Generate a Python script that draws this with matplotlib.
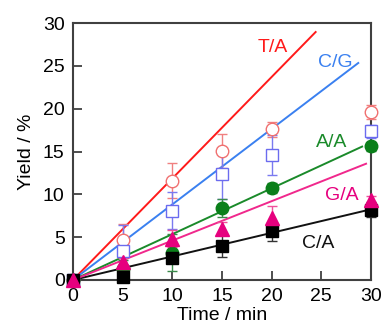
import matplotlib
matplotlib.use("Agg")
import matplotlib.pyplot as plt

plt.rcParams['font.family'] = ['Liberation Sans', 'DejaVu Sans']

time = [0, 5, 10, 15, 20, 30]

ta_y = [0, 4.7, 11.6, 15.05, 17.6, 19.6]
ta_err = [0, 1.8, 2.0, 2.0, 0.9, 0.8]
cg_y = [0, 3.4, 8.1, 12.4, 14.6, 17.35]
cg_err = [0, 3.0, 2.2, 3.0, 2.3, 0.8]
aa_y = [0, 1.3, 3.2, 8.4, 10.7, 15.6]
aa_err = [0, 1.0, 2.2, 1.1, 0.6, 0.5]
ga_y = [0, 2.1, 4.8, 6.0, 7.2, 9.3]
ga_err = [0, 0.5, 1.0, 0.8, 1.4, 0.5]
ca_y = [0, 0.3, 2.6, 4.0, 5.7, 8.2]
ca_err = [0, 0.3, 0.6, 1.3, 1.1, 0.9]

# fitted lines: slope and end time
ta_fit = (1.185, 24.5)
cg_fit = (0.882, 28.8)
aa_fit = (0.535, 29.2)
ga_fit = (0.46, 29.6)
ca_fit = (0.275, 30.0)

labels = ["T/A", "C/G", "A/A", "G/A", "C/A"]
label_pos = [(20.1, 27.2), (26.4, 25.4), (26.05, 16.1), (27.05, 9.9), (24.7, 4.3)]

fig = plt.figure(figsize=(3.84, 3.29), dpi=100)
ax = fig.add_axes([0.190, 0.149, 0.776, 0.781])

series = [
    (ta_y, ta_err, ta_fit, '#ff1a1a', 'o', 'white', '#f07070', '#f08080'),
    (cg_y, cg_err, cg_fit, '#3a80f0', 's', 'white', '#6b6bef', '#7a7af0'),
    (aa_y, aa_err, aa_fit, '#1a8a2a', 'o', '#0a7f1a', '#0a7f1a', '#3a8a4a'),
    (ca_y, ca_err, ca_fit, '#111111', 's', '#000000', '#000000', '#333333'),
    (ga_y, ga_err, ga_fit, '#f0288c', '^', '#e6007e', '#e6007e', '#f0509c'),
]
text_colors = ['#ff1a1a', '#3a80f0', '#1a8a2a', '#e6007e', '#111111']

# fit lines
for y, e, (slope, tend), lc, m, fc, ec, errc in series:
    ax.plot([0, tend], [0, slope * tend], color=lc, lw=1.4, zorder=2, solid_capstyle='butt')

# error bars and markers
for i, (y, e, fit, lc, m, fc, ec, errc) in enumerate(series):
    ms = 9 if m != '^' else 9.5
    ax.errorbar(time, y, yerr=e, fmt='none', ecolor=errc, elinewidth=1.0,
                capsize=3.5, capthick=1.0, zorder=3 + i * 0.1, clip_on=False)
    ax.plot(time, y, linestyle='none', marker=m, ms=ms, mfc=fc, mec=ec,
            mew=1.0, zorder=4 + i * 0.1, clip_on=False)

for lab, (x, yy), c in zip(labels, label_pos, text_colors):
    ax.text(x, yy, lab, color=c, fontsize=14, ha='center', va='center')

ax.set_xlim(0, 30)
ax.set_ylim(0, 30)
ax.set_xticks([0, 5, 10, 15, 20, 25, 30])
ax.set_yticks([0, 5, 10, 15, 20, 25, 30])
ax.tick_params(direction='in', length=6.5, width=1.3, color='#404040',
               labelsize=14, pad=6, top=False, right=False)
for s in ax.spines.values():
    s.set_color('#404040')
    s.set_linewidth(1.5)
ax.set_xlabel('Time / min', fontsize=14, labelpad=1)
ax.set_ylabel('Yield / %', fontsize=14, labelpad=6)

fig.savefig('out.png', dpi=100)
